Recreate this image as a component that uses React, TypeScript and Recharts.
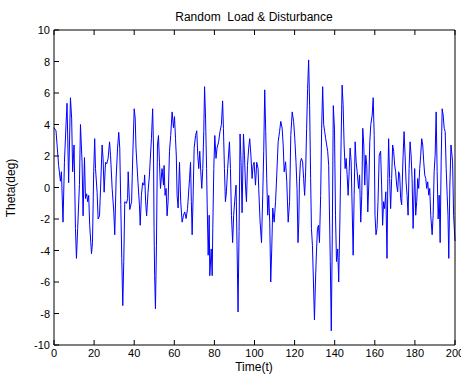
import { Line, LineChart, XAxis, YAxis } from "recharts";

// time (t) and theta (deg)
const time = [
  0, 1, 2.3, 3.2, 3.7, 4.5, 5.2, 6, 6.5, 7.3, 8.2, 8.8, 9.3, 10, 10.7, 11.2, 11.8, 12.7, 13.2, 14,
  14.5, 15.2, 15.7, 16.3, 16.8, 17.3, 17.8, 18.7, 19.2, 19.8, 20.3, 20.7, 21.5, 22, 22.7, 23.2, 24, 24.5, 25, 25.7,
  26.3, 27, 27.7, 28.2, 29, 29.8, 30.3, 31, 31.7, 32.3, 32.8, 33.3, 33.8, 34.3, 34.8, 35.3, 36.2, 36.7, 37, 37.8,
  38.7, 39.3, 40, 40.5, 40.9, 41.9, 42.6, 43, 43.6, 44.2, 44.9, 45.2, 45.7, 46.2, 46.9, 47.6, 48.1, 48.6, 49.2, 49.6,
  49.9, 50.2, 50.6, 51.1, 51.6, 52.1, 52.6, 53.1, 53.9, 54.6, 54.9, 55.4, 55.9, 56.4, 56.9, 57.6, 58.2, 58.9, 59.6, 60.1,
  60.6, 61, 61.4, 61.9, 62.6, 63.2, 63.9, 64.6, 65.2, 65.9, 66.6, 67.6, 68.1, 68.5, 68.9, 69.4, 69.9, 70.6, 71.2, 71.7,
  72.2, 72.7, 73.2, 73.7, 74.2, 74.7, 75.1, 75.6, 76.1, 76.4, 76.9, 77.4, 77.7, 78.4, 78.9, 79.2, 79.7, 80.2, 80.8, 81.3,
  82.1, 82.8, 83.5, 84.1, 84.5, 85, 85.5, 86, 86.6, 87.5, 88, 88.5, 89.1, 89.6, 90.1, 90.8, 91.3, 91.8, 92.3, 92.8,
  93.3, 93.8, 94.5, 95, 95.5, 96, 96.5, 97.1, 97.6, 98.2, 98.8, 99.3, 99.8, 100.5, 101.1, 101.8, 102.1, 102.8, 103.5, 104.1,
  104.6, 105.1, 105.6, 106.1, 106.6, 107.1, 107.6, 108.1, 108.6, 109.1, 109.8, 110.5, 111.1, 111.8, 112.5, 113.1, 113.8, 114.3, 114.8, 115.5,
  116.1, 116.8, 117.5, 118.1, 118.8, 119.5, 120.1, 120.7, 121.2, 121.7, 122.1, 122.4, 122.9, 123.4, 124, 124.5, 125, 125.5, 126, 126.5,
  127, 127.5, 128, 128.4, 128.9, 129.4, 129.9, 130.4, 130.9, 131.4, 131.9, 132.4, 133, 133.5, 134, 134.5, 135, 135.5, 136, 136.5,
  137, 137.8, 138.3, 138.8, 139.3, 139.9, 140.4, 140.9, 141.5, 142, 142.6, 143.2, 143.7, 144.2, 144.7, 145.2, 145.7, 146.2, 146.7, 147.2,
  147.7, 148.2, 148.7, 149.2, 149.7, 150.2, 150.7, 151.2, 151.9, 152.4, 153, 153.5, 154, 154.5, 155, 155.5, 156, 156.5, 157, 157.5,
  158, 158.7, 159.2, 159.7, 160.1, 160.6, 161.1, 161.6, 162.2, 162.9, 163.4, 163.9, 164.4, 164.9, 165.5, 166.1, 166.5, 166.9, 167.4, 167.9,
  168.4, 168.9, 169.4, 169.9, 170.4, 170.9, 171.4, 171.9, 172.4, 172.9, 173.4, 174, 174.6, 175.1, 175.6, 176.1, 176.6, 177.1, 177.6, 178.1,
  178.6, 179.1, 179.9, 180.4, 180.9, 181.4, 181.9, 182.4, 182.9, 183.4, 183.9, 184.4, 184.9, 185.4, 185.9, 186.4, 186.9, 187.4, 187.9, 188.6,
  189.1, 189.6, 190.1, 190.6, 191.1, 191.6, 192.1, 192.6, 193.1, 193.6, 194.1, 194.6, 195.1, 195.6, 196.1, 196.5, 196.9, 197.4, 198, 198.8,
  199.3, 200,
];

const theta = [
  3.8, 3.6, 1.4, 0.4, 1.0, -2.2, 1.6, 4.0, 5.35, 0.3, 5.7, 4.4, 1.0, 2.7, -2.6, -4.5, -2.6, 0.2, 4.0, 1.6,
  -1.8, 1.9, -0.7, -0.4, -0.9, -0.5, -2.4, -4.2, -3.5, 1.0, 3.1, 1.2, -0.3, -2.0, -1.8, -0.1, 2.7, 1.8, -0.3, 1.6,
  1.5, 1.85, 2.9, 2.05, -0.06, -1.5, -3.0, 0.6, 2.5, 3.5, 2.5, -1.1, -4.5, -7.5, -4.7, -0.9, -1.0, -0.7, 1.0, -1.4,
  -0.9, 2.05, 5.0, 4.4, 2.5, 0.3, -1.1, -2.4, -0.5, 0.3, 0.15, 0.8, -0.9, -1.8, -0.3, 0.8, 2.0, 3.1, 5.0, 2.7,
  -2.6, -5.6, -7.7, -3.7, 2.7, 3.3, 1.6, -0.06, 1.2, 0.15, 1.4, -0.5, -0.06, -1.8, -0.9, 2.3, 3.3, 4.8, 3.8, 4.5,
  3.1, 2.0, -0.5, -1.3, 1.6, -0.9, -2.2, -1.76, -1.55, -1.97, -1.34, 0.57, 1.6, -0.9, -3.0, -0.5, 2.5, 3.3, 3.6, 2.05,
  1.2, 2.3, 1.0, -0.06, 1.2, 3.55, 6.4, 4.4, 1.2, -1.1, -4.3, -1.76, -5.6, -3.9, -5.6, -2.6, 1.2, 3.3, 1.85, 2.5,
  2.9, 3.55, 4.0, 5.5, 3.76, 1.2, -0.9, -0.27, 1.2, 2.9, 1.2, -1.76, -3.5, -1.76, -0.9, 0.15, -3.7, -7.9, -2.8, 3.4,
  1.6, -1.6, 3.4, 2.05, 0.15, -0.9, 1.4, 2.5, 3.1, 2.05, 0.57, 1.4, 1.6, 0.15, 1.6, 1.2, -0.06, -2.2, -3.5, -0.5,
  2.3, 6.2, 3.55, 0.57, -1.76, -0.5, -2.2, -6.0, -3.9, -1.3, -2.2, -0.9, 0.8, 2.9, 3.55, 4.2, 3.76, 2.7, 1.0, 1.63,
  0.36, -2.2, -0.9, 3.3, 4.8, 4.2, 3.1, 1.6, -0.06, -3.5, -2.2, 0.36, 1.6, 1.85, 1.63, 0.57, -0.5, 1.0, 3.76, 6.3,
  8.1, 5.2, 0.57, -2.6, -3.7, -6.0, -8.4, -6.0, -4.1, -2.6, -2.4, -3.5, -0.5, 3.76, 6.4, 4.0, 3.55, 3.1, 2.7, 2.3,
  1.4, -4.7, -9.1, -3.0, 5.2, 3.7, -1.8, -4.7, -3.9, -6.0, -2.0, 3.0, 6.5, 5.25, 2.7, 1.2, 1.85, 0.8, -0.5, 1.0,
  2.5, 1.63, -1.3, -4.3, -0.5, 2.9, 1.63, 1.0, -0.06, 0.8, -2.2, -0.5, 3.76, 2.7, 0.15, 2.05, 1.42, -1.55, 0.15, 2.9,
  4.0, 4.6, 5.7, 3.3, -1.76, -3.0, -2.6, -0.9, 2.05, 2.3, 0.15, -2.4, -0.9, -1.34, -0.27, -4.5, 0.57, 3.1, 0.57, -1.34,
  0.57, 2.7, 2.3, 1.42, 1.0, 0.15, -0.27, 1.0, 0.8, -0.7, -1.1, 1.63, 3.55, 2.05, 0.36, -0.5, -1.76, 1.2, 2.9, 2.05,
  0.57, -2.6, 1.2, -1.76, -0.9, 0.57, -0.06, 1.2, 2.05, 3.1, 2.7, 1.63, 0.8, 0.57, -0.06, 0.36, -0.49, -0.06, -1.76, -3.0,
  -1.76, 1.0, 2.05, 4.8, 1.0, -2.0, -0.49, -3.5, 1.63, 5.0, 4.6, 3.76, 3.55, 1.2, -0.49, -1.76, -4.5, -0.06, 2.7, 1.63,
  -1.76, -3.4,
];

const xTicks = [0, 20, 40, 60, 80, 100, 120, 140, 160, 180, 200];
const yTicks = [-10, -8, -6, -4, -2, 0, 2, 4, 6, 8, 10];

const data = time.map((t, i) => ({ t, theta: theta[i] }));

const font = "'Liberation Sans', Arial, sans-serif";

const BottomTick = (props: any) => {
  const { x, y, payload } = props;
  return (
    <g>
      <line x1={x} y1={y} x2={x} y2={y - 5} stroke="#000" />
      <text x={x} y={y + 12} textAnchor="middle" fontSize={11} fontFamily={font} fill="#000">
        {payload.value}
      </text>
    </g>
  );
};

const TopTick = (props: any) => {
  const { x, y } = props;
  return <line x1={x} y1={y} x2={x} y2={y + 5} stroke="#000" />;
};

const LeftTick = (props: any) => {
  const { x, y, payload } = props;
  return (
    <g>
      <line x1={x} y1={y} x2={x + 5} y2={y} stroke="#000" />
      <text x={x - 4} y={y + 4} textAnchor="end" fontSize={11} fontFamily={font} fill="#000">
        {payload.value}
      </text>
    </g>
  );
};

const RightTick = (props: any) => {
  const { x, y } = props;
  return <line x1={x} y1={y} x2={x - 5} y2={y} stroke="#000" />;
};

export default function App() {
  return (
    <div style={{ position: "absolute", left: 0, top: 0, background: "#fff" }}>
      <LineChart width={461} height={376} data={data} margin={{ top: 0, right: 0, bottom: 0, left: 0 }}>
        <XAxis
          xAxisId="bottom"
          dataKey="t"
          type="number"
          domain={[0, 200]}
          ticks={xTicks}
          interval={0}
          height={31}
          tickSize={0}
          tickMargin={0}
          tickLine={false}
          axisLine={{ stroke: "#000" }}
          tick={<BottomTick />}
        />
        <XAxis
          xAxisId="top"
          orientation="top"
          dataKey="t"
          type="number"
          domain={[0, 200]}
          ticks={xTicks}
          interval={0}
          height={30}
          tickSize={0}
          tickMargin={0}
          tickLine={false}
          axisLine={{ stroke: "#000" }}
          tick={<TopTick />}
        />
        <YAxis
          yAxisId="left"
          type="number"
          domain={[-10, 10]}
          ticks={yTicks}
          interval={0}
          width={54}
          tickSize={0}
          tickMargin={0}
          tickLine={false}
          axisLine={{ stroke: "#000" }}
          tick={<LeftTick />}
        />
        <YAxis
          yAxisId="right"
          orientation="right"
          type="number"
          domain={[-10, 10]}
          ticks={yTicks}
          interval={0}
          width={6}
          tickSize={0}
          tickMargin={0}
          tickLine={false}
          axisLine={{ stroke: "#000" }}
          tick={<RightTick />}
        />
        <Line
          xAxisId="bottom"
          yAxisId="left"
          dataKey="theta"
          type="linear"
          stroke="#0000ff"
          strokeWidth={1}
          dot={false}
          isAnimationActive={false}
        />
        <text x={254} y={21} textAnchor="middle" fontSize={12} fontFamily={font} fill="#000" style={{ whiteSpace: "pre" }}>
          Random  Load &amp; Disturbance
        </text>
        <text x={254} y={371} textAnchor="middle" fontSize={12} fontFamily={font} fill="#000">
          Time(t)
        </text>
        <text x={15} y={188} textAnchor="middle" fontSize={12} fontFamily={font} fill="#000" transform="rotate(-90 15 188)">
          Theta(deg)
        </text>
      </LineChart>
    </div>
  );
}
